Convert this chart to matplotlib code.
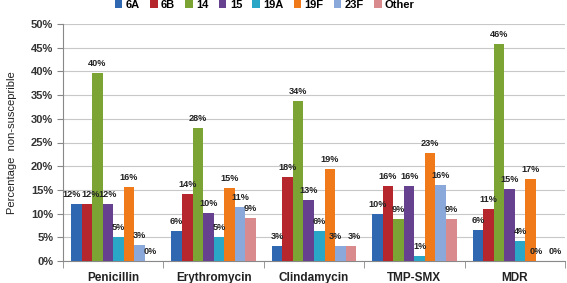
import matplotlib
matplotlib.use("Agg")
import matplotlib.pyplot as plt
import numpy as np

categories = ["Penicillin", "Erythromycin", "Clindamycin", "TMP-SMX", "MDR"]
serotypes = ["6A", "6B", "14", "15", "19A", "19F", "23F", "Other"]
values = {
    "6A":    [12.0, 6.3, 3.2, 10.0, 6.5],
    "6B":    [12.0, 14.1, 17.7, 15.8, 11.0],
    "14":    [39.7, 28.1, 33.7, 8.9, 45.8],
    "15":    [12.0, 10.1, 12.9, 15.8, 15.2],
    "19A":   [5.1, 5.1, 6.3, 1.0, 4.3],
    "19F":   [15.6, 15.4, 19.4, 22.8, 17.3],
    "23F":   [3.4, 11.4, 3.2, 16.0, 0.0],
    "Other": [0.0, 9.1, 3.2, 8.9, 0.0],
}
colors = ["#2F68B0", "#B5272D", "#7CA435", "#66418F", "#2AA7C6", "#F07A1A", "#8AA8DA", "#D98A8C"]

plt.rcParams['font.family'] = ['Liberation Sans', 'DejaVu Sans']
narrow = ['Liberation Sans Narrow', 'Liberation Sans', 'DejaVu Sans']
fig = plt.figure(figsize=(5.67, 2.83), dpi=100)
ax = fig.add_axes([63/567, 1 - 261/283, (565 - 63)/567, (261 - 24)/283])

n = len(serotypes)
bw = 0.105
x = np.arange(len(categories))
for i, (s, c) in enumerate(zip(serotypes, colors)):
    off = (i - (n - 1) / 2) * bw
    ax.bar(x + off, values[s], bw, color=c, label=s, zorder=3)

# data labels; nudge apart labels of neighbouring bars of (nearly) equal height
for j in range(len(categories)):
    for i, s in enumerate(serotypes):
        v = values[s][j]
        dx = 0.0
        if i > 0 and abs(values[serotypes[i - 1]][j] - v) < 1.5:
            dx += 2.4
        if i < n - 1 and abs(values[serotypes[i + 1]][j] - v) < 1.5:
            dx -= 3.4
        xi = x[j] + (i - (n - 1) / 2) * bw
        ax.annotate(f"{round(v):.0f}%", (xi, v), xytext=(dx, 3.5), textcoords="offset points",
                    ha="center", va="bottom", fontsize=6.6, fontweight="bold",
                    color="#222222", zorder=4, family=narrow)

ax.set_xlim(-0.5, len(categories) - 0.5)
ax.set_ylim(0, 50)
ax.set_yticks(np.arange(0, 51, 5))
ax.set_yticklabels([f"{t}%" for t in range(0, 51, 5)], fontsize=8, fontweight="bold", color="#333333")
ax.yaxis.grid(True, color="#C8C8C8", linewidth=0.8, zorder=0)
ax.set_axisbelow(True)

ax.set_xticks(x)
ax.set_xticklabels(categories, fontsize=8.5, fontweight="bold", color="#222222")
ax.tick_params(axis="x", length=0, pad=8)
ax.set_xticks(np.arange(-0.5, len(categories), 1), minor=True)
ax.tick_params(axis="x", which="minor", length=5, color="#888888")
ax.tick_params(axis="y", length=4, color="#888888", pad=3)

for sp in ["top", "right"]:
    ax.spines[sp].set_visible(False)
for sp in ["left", "bottom"]:
    ax.spines[sp].set_color("#888888")
    ax.spines[sp].set_linewidth(0.8)

ax.set_ylabel("Percentage  non-susceprible", fontsize=8, color="#222222", labelpad=10)

leg = fig.legend(loc="upper center", bbox_to_anchor=(0.467, 1.035), ncol=8, frameon=False,
                 prop={"size": 8, "weight": "bold"}, handlelength=0.7, handleheight=0.7,
                 handletextpad=0.3, columnspacing=0.9)

fig.savefig("out.png", dpi=100)
